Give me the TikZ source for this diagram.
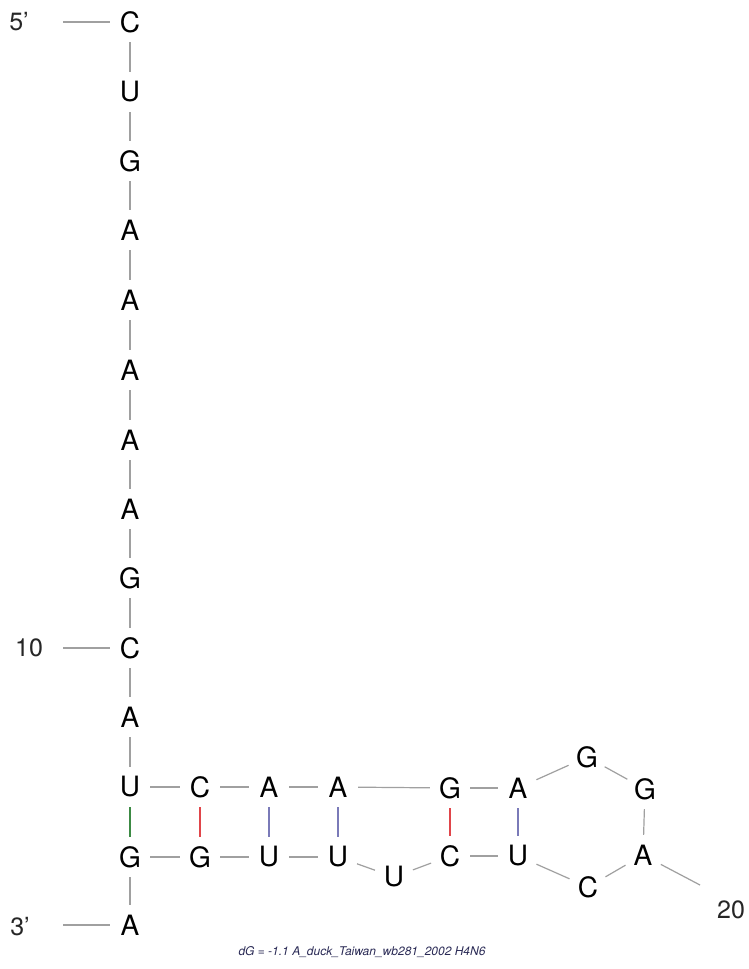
\documentclass[tikz,border=0pt]{standalone}
\usepackage{fontspec}
\setmainfont{TeX Gyre Heros}
\definecolor{bbgray}{HTML}{A0A0A0}
\definecolor{pairgreen}{HTML}{3C8A44}
\definecolor{pairred}{HTML}{E0454A}
\definecolor{pairblue}{HTML}{7A7AB8}
\definecolor{titlenavy}{HTML}{2A2A55}
\begin{document}
\begin{tikzpicture}[x=1pt,y=-1pt,
  base/.style={circle,inner sep=0pt,minimum size=40pt,font=\fontsize{28}{28}\selectfont,text=black},
  lbl/.style={inner sep=0pt,font=\fontsize{25}{25}\selectfont,text=black!85},
  bb/.style={draw=bbgray,line width=1.2pt},
  pairgu/.style={draw=pairgreen,line width=1.2pt},
  pairgc/.style={draw=pairred,line width=1.2pt},
  pairau/.style={draw=pairblue,line width=1.2pt}]
\useasboundingbox[fill=white] (0,0) rectangle (748,969);
% stem column
\node[base] (n1) at (130,22) {C};
\node[base] (n2) at (130,92) {U};
\node[base] (n3) at (130,161) {G};
\node[base] (n4) at (130,230) {A};
\node[base] (n5) at (130,300) {A};
\node[base] (n6) at (130,370) {A};
\node[base] (n7) at (130,440) {A};
\node[base] (n8) at (130,509) {A};
\node[base] (n9) at (130,578) {G};
\node[base] (n10) at (130,648) {C};
\node[base] (n11) at (130,717) {A};
\node[base] (n12) at (130,787) {U};
% top row
\node[base] (n13) at (200,787) {C};
\node[base] (n14) at (269,787) {A};
\node[base] (n15) at (338,787) {A};
\node[base] (n16) at (450,788) {G};
\node[base] (n17) at (518,788) {A};
% loop
\node[base] (n18) at (587,757) {G};
\node[base] (n19) at (645,789) {G};
\node[base] (n20) at (643,855) {A};
\node[base] (n21) at (588,887) {C};
% bottom row
\node[base] (n22) at (518,856) {U};
\node[base] (n23) at (450,856) {C};
\node[base] (n24) at (394,877) {U};
\node[base] (n25) at (338,857) {U};
\node[base] (n26) at (269,857) {U};
\node[base] (n27) at (200,857) {G};
\node[base] (n28) at (130,857) {G};
\node[base] (n29) at (130,925) {A};
% labels
\node[lbl] (l5) at (19,22) {5’};
\node[lbl] (l10) at (29,648) {10};
\node[lbl] (l3) at (20,927) {3’};
\node[lbl] (l20) at (731,910) {20};
\coordinate (c5) at (63,22);
\coordinate (c10) at (63,648);
\coordinate (c3) at (63,925);
\coordinate (c20) at (700,885);
% backbone
\foreach \a/\b in {n1/n2,n2/n3,n3/n4,n4/n5,n5/n6,n6/n7,n7/n8,n8/n9,n9/n10,n10/n11,n11/n12,
  n12/n13,n13/n14,n14/n15,n15/n16,n16/n17,n17/n18,n18/n19,n19/n20,n20/n21,n21/n22,
  n22/n23,n23/n24,n24/n25,n25/n26,n26/n27,n27/n28,n28/n29}
  \draw[bb] (\a) -- (\b);
\draw[bb] (c5) -- (n1);
\draw[bb] (c10) -- (n10);
\draw[bb] (c3) -- (n29);
\draw[bb] (n20) -- (c20);
% base pairs
\draw[pairgu] (n12) -- (n28);
\draw[pairgc] (n13) -- (n27);
\draw[pairau] (n14) -- (n26);
\draw[pairau] (n15) -- (n25);
\draw[pairgc] (n16) -- (n23);
\draw[pairau] (n17) -- (n22);
% title
\node[font=\fontsize{12}{12}\selectfont\itshape,text=titlenavy] (title) at (362,952)
  {dG = -1.1 A\_duck\_Taiwan\_wb281\_2002 H4N6};
\end{tikzpicture}
\end{document}
